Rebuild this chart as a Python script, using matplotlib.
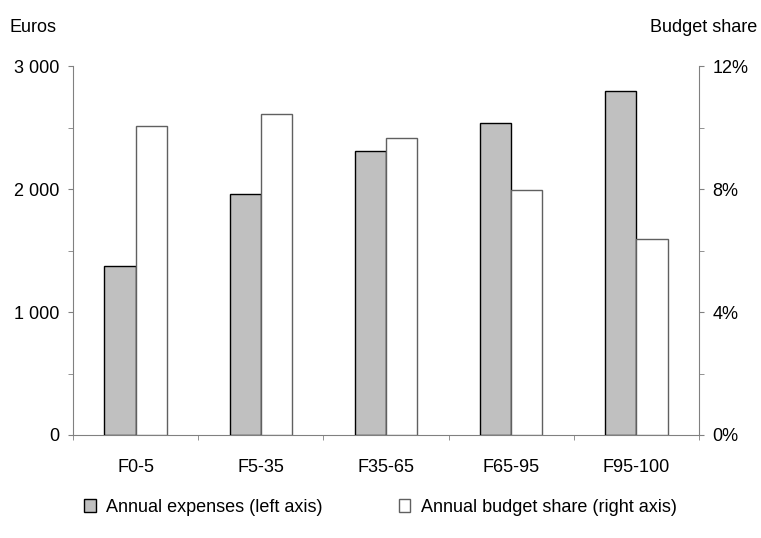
import numpy as np
import matplotlib.pyplot as plt
from matplotlib.ticker import FuncFormatter, MultipleLocator

plt.rcParams['font.family'] = ['Liberation Sans', 'DejaVu Sans']
fs = 13
plt.rcParams['font.size'] = fs

# Data
groups = ['F0-5', 'F5-35', 'F35-65', 'F65-95', 'F95-100']
expenses = [1373, 1960, 2310, 2537, 2802]          # euros, left axis
budget_share = [10.04, 10.45, 9.66, 7.96, 6.38]    # percent, right axis

x = np.arange(len(groups))
w = 0.25
spine_col = '#808080'

fig = plt.figure(figsize=(7.61, 5.38), dpi=100)
ax = fig.add_axes([0.096, 0.1915, 0.8225, 0.6855])
ax2 = ax.twinx()

ax.bar(x - w / 2, expenses, width=w, color='#c0c0c0', edgecolor='black',
       linewidth=1.0, label='Annual expenses (left axis)', zorder=3)
ax2.bar(x + w / 2, budget_share, width=w, color='white', edgecolor='#606060',
        linewidth=1.0, label='Annual budget share (right axis)', zorder=3)

ax.set_xlim(-0.5, len(groups) - 0.5)
ax.set_ylim(0, 3000)
ax2.set_ylim(0, 12)

# left axis
ax.yaxis.set_major_locator(MultipleLocator(1000))
ax.yaxis.set_minor_locator(MultipleLocator(500))
ax.yaxis.set_major_formatter(FuncFormatter(lambda v, p: f'{int(v):,}'.replace(',', ' ')))
# right axis
ax2.yaxis.set_major_locator(MultipleLocator(4))
ax2.yaxis.set_minor_locator(MultipleLocator(2))
ax2.yaxis.set_major_formatter(FuncFormatter(lambda v, p: f'{int(v)}%'))

# x axis: labels centered, ticks between groups
ax.set_xticks(x)
ax.set_xticklabels(groups)
ax.set_xticks(np.arange(-0.5, len(groups), 1.0), minor=True)
ax.tick_params(axis='x', which='major', length=0, pad=17, labelsize=fs)
ax.tick_params(axis='x', which='minor', length=3.6, color=spine_col, direction='out')

for a in (ax, ax2):
    a.spines['top'].set_visible(False)
    for s in ('left', 'right', 'bottom'):
        a.spines[s].set_color(spine_col)
    a.tick_params(axis='y', which='both', length=3.6, color=spine_col, direction='out')
    a.tick_params(axis='y', which='major', pad=6, labelsize=fs)
ax.spines['right'].set_visible(False)
ax2.spines['left'].set_visible(False)
ax2.spines['bottom'].set_visible(False)

fig.text(0.013, 0.948, 'Euros', ha='left', va='center', fontsize=fs)
fig.text(0.995, 0.948, 'Budget share', ha='right', va='center', fontsize=fs)

h1, l1 = ax.get_legend_handles_labels()
h2, l2 = ax2.get_legend_handles_labels()
fig.legend(h1 + h2, l1 + l2, loc='center', bbox_to_anchor=(0.5, 0.057), ncol=2,
           frameon=False, fontsize=fs, handlelength=0.65, handleheight=0.65,
           handletextpad=0.6, columnspacing=4.2)

fig.savefig('out.png', dpi=100)
